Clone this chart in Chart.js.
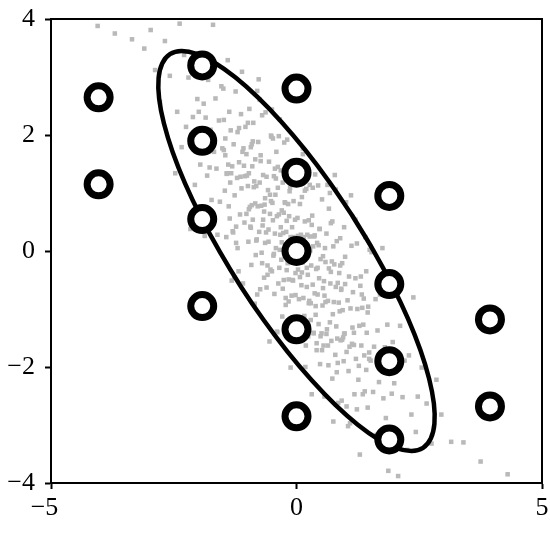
<!DOCTYPE html>
<html>
<head>
<meta charset="utf-8">
<script src="https://cdn.jsdelivr.net/npm/chart.js@4.4.1/dist/chart.umd.min.js"></script>
<style>
  html, body { margin: 0; padding: 0; background: #fff; }
  canvas { display: block; }
</style>
</head>
<body>
<canvas id="myChart" width="550" height="534"></canvas>
<script>
// AXIS RANGES AND TICKS
const xTicks = [-5, 0, 5];
const yTicks = [-4, -2, 0, 2, 4];

// BLACK RINGS (x, y)
const ringX = [-4.03, -4.03, -1.92, -1.92, -1.92, -1.92, 0, 0, 0, 0, 0, 1.89, 1.89, 1.89, 1.89, 3.94, 3.94];
const ringY = [2.65, 1.15, 3.2, 1.9, 0.55, -0.95, 2.8, 1.35, 0, -1.35, -2.85, 0.95, -0.57, -1.9, -3.25, -1.18, -2.68];

// ELLIPSE OUTLINE, WALKED ROUND ONCE
const ellipsePoints = [
  [1.131, 0.616], [1.561, 0.017], [1.944, -0.582], [2.268, -1.163], [2.523, -1.709], [2.701, -2.203],
  [2.798, -2.631], [2.809, -2.978], [2.735, -3.234], [2.578, -3.393], [2.343, -3.448], [2.036, -3.399],
  [1.667, -3.246], [1.248, -2.995], [0.791, -2.653], [0.310, -2.230], [-0.181, -1.739], [-0.666, -1.195],
  [-1.131, -0.616], [-1.561, -0.017], [-1.944, 0.582], [-2.268, 1.163], [-2.523, 1.709], [-2.701, 2.203],
  [-2.798, 2.631], [-2.809, 2.978], [-2.735, 3.234], [-2.578, 3.393], [-2.343, 3.448], [-2.036, 3.399],
  [-1.667, 3.246], [-1.248, 2.995], [-0.791, 2.653], [-0.310, 2.230], [0.181, 1.739], [0.666, 1.195],
  [1.131, 0.616]
];

// GREY CLOUD (estimated)
const cloudPoints = [
  [0,0.11],[0.01,-1.17],[0.02,0.57],[0.03,-0.32],[0.04,1.56],[0.05,-0.83],[0.06,-0.04],[0.07,0.81],[0.08,-1.52],[0.09,0.28],
  [0.1,-0.59],[0.11,0.93],[0.12,-0.2],[0.13,1.77],[0.14,-0.81],[0.15,0.09],[0.16,-1.12],[0.17,0.51],[0.18,-2],[0.19,-0.02],
  [0.2,1.07],[0.21,-0.62],[0.22,0.28],[0.23,-0.41],[0.24,-1.47],[0.25,0.53],[0.26,-0.86],[0.27,1.14],[0.28,0.01],[0.29,-1.19],
  [0.3,-0.25],[0.31,-2.47],[0.32,0.61],[0.33,-0.58],[0.34,0.08],[0.35,-1.41],[0.36,0.25],[0.37,-0.73],[0.38,1.32],[0.39,-0.95],
  [0.4,-0.31],[0.41,-1.59],[0.42,0.14],[0.43,-0.75],[0.44,1.13],[0.45,-1.26],[0.46,-0.47],[0.47,0.38],[0.48,-1.95],[0.49,-0.14],
  [-0.01,1.29],[-0.02,-0.38],[-0.03,0.54],[-0.04,-0.13],[-0.05,-1.17],[-0.06,0.86],[-0.07,-0.51],[-0.08,1.51],[-0.09,0.41],[-0.1,-0.77],
  [-0.11,0.19],[-0.12,-2.01],[-0.13,1.09],[-0.14,-0.08],[-0.15,0.6],[-0.16,-0.87],[-0.17,0.81],[-0.18,-0.15],[-0.19,1.92],[-0.2,-0.33],
  [-0.21,0.33],[-0.22,-0.93],[-0.23,0.83],[-0.24,-0.04],[-0.25,1.87],[-0.26,-0.5],[-0.27,0.31],[-0.28,1.18],[-0.29,-1.13],[-0.3,0.7],
  [-0.31,-0.15],[-0.32,1.39],[-0.33,0.28],[-0.34,2.27],[-0.35,-0.29],[-0.36,0.63],[-0.37,-0.56],[-0.38,1.09],[-0.39,-1.4],[-0.4,0.6],
  [-0.41,1.71],[-0.42,0.05],[-0.43,0.97],[-0.44,0.3],[-0.45,-0.74],[-0.46,1.29],[-0.47,-0.08],[-0.48,1.94],[-0.49,0.83],[-0.5,-0.35],
  [0.51,-1.42],[0.52,0.89],[0.53,-0.94],[0.54,-0.09],[0.55,-1.63],[0.56,-0.52],[0.57,-2.51],[0.58,0.05],[0.59,-0.88],[0.61,0.3],
  [0.62,-1.35],[0.63,1.14],[0.64,-0.86],[0.65,-1.97],[0.66,-0.3],[0.68,-1.23],[0.69,-0.56],[0.7,0.48],[0.71,-1.55],[0.72,-0.18],
  [0.73,-2.2],[0.74,-1.09],[0.75,0.08],[0.76,-0.88],[0.78,1.31],[0.79,-1.79],[0.8,-0.62],[0.81,-1.3],[0.82,0.17],[0.83,-1.51],
  [0.84,-0.55],[0.85,-2.62],[0.87,-0.38],[0.88,-1.04],[0.89,0.22],[0.9,-1.54],[0.91,-0.67],[0.92,-2.58],[0.93,-0.21],[0.94,-1.02],
  [0.96,-1.9],[0.97,0.41],[0.98,-1.42],[0.99,-0.57],
  [-0.51,1.97],[-0.52,0.86],[-0.53,-0.32],[-0.54,0.64],[-0.55,-1.56],[-0.56,1.54],[-0.57,0.37],[-0.58,1.05],[-0.59,-0.41],[-0.61,1.28],
  [-0.62,0.32],[-0.63,2.39],[-0.64,0.14],[-0.65,0.8],[-0.66,-0.46],[-0.68,1.31],[-0.69,0.44],[-0.7,2.34],[-0.71,-0.03],[-0.72,0.78],
  [-0.73,1.65],[-0.74,-0.66],[-0.75,1.18],[-0.76,0.33],[-0.78,1.88],[-0.79,0.77],[-0.8,2.76],[-0.81,0.2],[-0.82,1.12],[-0.83,-0.07],
  [-0.84,1.58],[-0.85,-0.91],[-0.87,1.1],[-0.88,2.21],[-0.89,0.54],[-0.9,1.46],[-0.91,0.79],[-0.92,-0.24],[-0.93,1.79],[-0.94,0.42],
  [-0.96,2.45],[-0.97,1.34],[-0.98,0.16],[-0.99,1.12],
  [1.01,0.84],[1.02,-1.74],[1.04,-0.85],[1.06,-2.07],[1.07,-0.44],[1.09,-2.97],[1.1,-0.99],[1.12,0.09],[1.13,-1.6],[1.15,-0.71],
  [1.17,-1.41],[1.18,-2.47],[1.2,-0.47],[1.21,-1.86],[1.23,0.13],[1.24,-1],[1.26,-2.22],[1.28,-1.29],[1.29,-3.51],[1.31,-0.44],
  [1.32,-1.63],[1.34,-0.98],[1.35,-2.47],[1.37,-0.82],[1.38,-1.8],[1.4,0.24],[1.42,-2.05],[1.43,-1.41],[1.45,-2.7],[1.46,-0.96],
  [1.48,-1.86],[1.49,0.02],
  [-1.01,1.3],[-1.02,0.64],[-1.04,2.14],[-1.06,0.49],[-1.07,1.47],[-1.09,-0.56],[-1.1,1.71],[-1.12,1.08],[-1.13,2.36],[-1.15,0.63],
  [-1.17,1.53],[-1.18,-0.35],[-1.2,2.05],[-1.21,1.26],[-1.23,0.42],[-1.24,2.75],[-1.26,0.96],[-1.28,1.84],[-1.29,0.32],[-1.31,1.46],
  [-1.32,-0.51],[-1.34,2.08],[-1.35,1.18],[-1.37,2.4],[-1.38,0.77],[-1.4,3.29],[-1.42,1.33],[-1.43,0.24],[-1.45,1.94],[-1.46,1.04],
  [-1.48,1.74],[-1.49,2.8],
  [1.51,-1.89],[1.53,-0.02],[1.56,-2.43],[1.58,-1.65],[1.61,-0.83],[1.63,-3.17],[1.65,-1.37],[1.68,-2.26],[1.7,-0.75],[1.73,-1.9],
  [1.75,0.05],[1.77,-2.54],[1.8,-1.66],[1.82,-2.88],[1.85,-1.27],[1.87,-3.79],[1.89,-1.82],[1.92,-0.76],[1.94,-2.46],[1.96,-1.57],
  [1.99,-2.28],
  [-1.51,1.77],[-1.53,2.84],[-1.56,0.85],[-1.58,2.25],[-1.61,0.28],[-1.63,1.42],[-1.65,2.63],[-1.68,1.71],[-1.7,3.9],[-1.73,0.88],
  [-1.75,2.09],[-1.77,1.44],[-1.8,2.95],[-1.82,1.3],[-1.85,2.3],[-1.87,0.26],[-1.89,2.54],[-1.92,1.93],[-1.94,3.22],[-1.96,1.49],
  [-1.99,2.4],
  [2.02,-2.07],[2.07,-3.88],[2.11,-1.29],[2.16,-2.52],[2.2,-1.89],[2.25,-3.43],[2.29,-1.8],[2.34,-2.82],[2.38,-0.8],[2.43,-3.12],
  [2.47,-2.51],
  [-2.02,2.62],[-2.07,1.14],[-2.11,2.31],[-2.16,0.38],[-2.2,2.99],[-2.25,2.14],[-2.29,3.38],[-2.34,1.79],[-2.38,3.92],[-2.43,2.4],
  [-2.47,1.34],
  [2.55,-2.01],[2.65,-2.63],[2.75,-3.32],[2.85,-2.22],[2.95,-2.82],
  [-2.58,3.02],[-2.68,3.62],[-2.78,2.57],[-2.88,3.12],[-2.97,3.81],
  [3.15,-3.29],[3.4,-3.3],[-3.1,3.49],[-3.35,3.65],
  [3.75,-3.63],[-3.7,3.75],[4.3,-3.85],[-4.05,3.88],
  // denser core
  [0.01,-0.12],[0.03,0.26],[0.05,-0.07],[0.07,-0.45],[0.09,-0.03],[0.11,-0.37],[0.13,1.67],[0.15,0.24],[0.17,1.04],[0.19,-1.63],
  [0.21,-0.29],[0.23,-0.01],[0.25,-0.9],[0.27,0.25],[0.29,-0.9],[0.31,0.45],[0.33,1.09],[0.35,-1.42],[0.37,0.27],[0.39,-1.1],
  [0.41,-1.71],[0.43,-0.29],[0.45,0.1],[0.47,0.38],[0.49,-1.47],
  [-0.02,-0.76],[-0.04,-0.03],[-0.06,0.24],[-0.08,-0.5],[-0.1,-0.12],[-0.12,0.24],[-0.14,1.03],[-0.16,-0.49],[-0.18,-0.21],[-0.2,0.52],
  [-0.22,-0.81],[-0.24,0.84],[-0.26,0.66],[-0.28,-0.65],[-0.3,0.15],[-0.32,0.41],[-0.34,0.02],[-0.36,1.98],[-0.38,1.45],[-0.4,-1.39],
  [-0.42,1.25],[-0.44,1.42],[-0.46,-0.05],[-0.48,0.53],[-0.5,2.44],
  [0.52,-1.71],[0.54,-0.64],[0.57,-0.77],[0.59,-0.19],[0.61,-1.43],[0.64,-1.63],[0.66,0.73],[0.68,1],[0.7,-0.36],[0.73,0.51],
  [0.75,-2.94],[0.77,-0.23],[0.8,1.06],[0.82,-2.09],[0.84,-1.93],[0.86,-0.89],[0.89,-0.25],[0.91,-0.65],[0.93,-1.53],[0.95,-1.49],
  [0.97,-1.43],[0.99,-0.1],
  [-0.52,1.99],[-0.54,0.97],[-0.57,0.16],[-0.59,-0.25],[-0.61,-0.63],[-0.64,0.91],[-0.66,0.68],[-0.68,0.54],[-0.7,-0.21],[-0.73,1.55],
  [-0.75,2.61],[-0.77,2.96],[-0.8,-0.75],[-0.82,0.18],[-0.84,0.82],[-0.86,1.2],[-0.89,1.89],[-0.91,1.84],[-0.93,0.4],[-0.95,0.76],
  [-0.97,0.72],[-0.99,2.21],
  [1.02,-2.68],[1.05,-3.02],[1.08,-1.65],[1.11,0.96],[1.14,-1.32],[1.17,-1.62],[1.2,0.54],[1.23,-2.73],[1.27,-1.98],[1.3,-0.6],
  [1.33,-0.75],[1.36,-1.27],[1.39,-2.42],[1.42,-0.35],[1.45,-1.06],[1.48,-1.75],
  [-1.02,1.67],[-1.05,1.29],[-1.08,1.77],[-1.11,3.09],[-1.14,1.28],[-1.17,2.12],[-1.2,0.05],[-1.23,0.14],[-1.27,-0.46],[-1.3,0.34],
  [-1.33,1.34],[-1.36,0.56],[-1.39,1.49],[-1.42,1.34],[-1.45,1.65],[-1.48,2.26]
];

const FONT_FAMILY = '"Liberation Serif", "DejaVu Serif", serif';
const minus = v => (v < 0 ? '\u2212' + Math.abs(v) : String(v));

// FRAME ROUND THE PLOT AREA
const framePlugin = {
  id: 'frame',
  afterDatasetsDraw(chart) {
    const a = chart.chartArea;
    const c = chart.ctx;
    c.save();
    c.strokeStyle = '#000';
    c.lineWidth = 2;
    c.strokeRect(a.left, a.top, a.right - a.left, a.bottom - a.top);
    c.restore();
  }
};

const ctx = document.getElementById('myChart').getContext('2d');
const chart = new Chart(ctx, {
  type: 'scatter',
  data: {
    datasets: [
      {
        label: 'rings',
        order: 0,
        data: ringX.map((x, i) => ({ x: x, y: ringY[i] })),
        pointStyle: 'circle',
        pointRadius: 11.5,
        borderWidth: 7,
        borderColor: '#000',
        backgroundColor: '#fff'
      },
      {
        label: 'ellipse',
        order: 1,
        data: ellipsePoints.map(p => ({ x: p[0], y: p[1] })),
        showLine: true,
        tension: 0.4,
        pointRadius: 0,
        borderWidth: 4.5,
        borderColor: '#000',
        fill: false
      },
      {
        label: 'cloud',
        order: 2,
        data: cloudPoints.map(p => ({ x: p[0], y: p[1] })),
        pointStyle: 'rect',
        pointRadius: 3.2,
        borderWidth: 0,
        backgroundColor: '#b9b9b9'
      }
    ]
  },
  options: {
    responsive: false,
    animation: false,
    devicePixelRatio: 1,
    layout: { autoPadding: false, padding: { top: 19, right: 8, left: 0, bottom: 0 } },
    plugins: { legend: { display: false }, tooltip: { enabled: false } },
    scales: {
      x: {
        type: 'linear',
        min: xTicks[0],
        max: xTicks[xTicks.length - 1],
        afterBuildTicks: s => { s.ticks = xTicks.map(v => ({ value: v })); },
        afterFit: s => { s.height = 51; },
        ticks: {
          font: { family: FONT_FAMILY, size: 26, lineHeight: 1.46 },
          color: '#000',
          padding: 0,
          maxRotation: 0,
          callback: v => (v < 0 ? minus(v) + '\u2002' : minus(v))
        },
        grid: { drawOnChartArea: false, drawTicks: true, tickLength: 6, tickWidth: 2, tickColor: '#000' },
        border: { display: true, color: '#000', width: 2 }
      },
      y: {
        type: 'linear',
        min: yTicks[0],
        max: yTicks[yTicks.length - 1],
        afterBuildTicks: s => { s.ticks = yTicks.map(v => ({ value: v })); },
        afterFit: s => { s.width = 51; },
        ticks: {
          font: { family: FONT_FAMILY, size: 26, lineHeight: 0.6 },
          color: '#000',
          padding: 10,
          callback: minus
        },
        grid: { drawOnChartArea: false, drawTicks: true, tickLength: 6, tickWidth: 2, tickColor: '#000' },
        border: { display: true, color: '#000', width: 2 }
      }
    }
  },
  plugins: [framePlugin]
});
</script>
</body>
</html>
